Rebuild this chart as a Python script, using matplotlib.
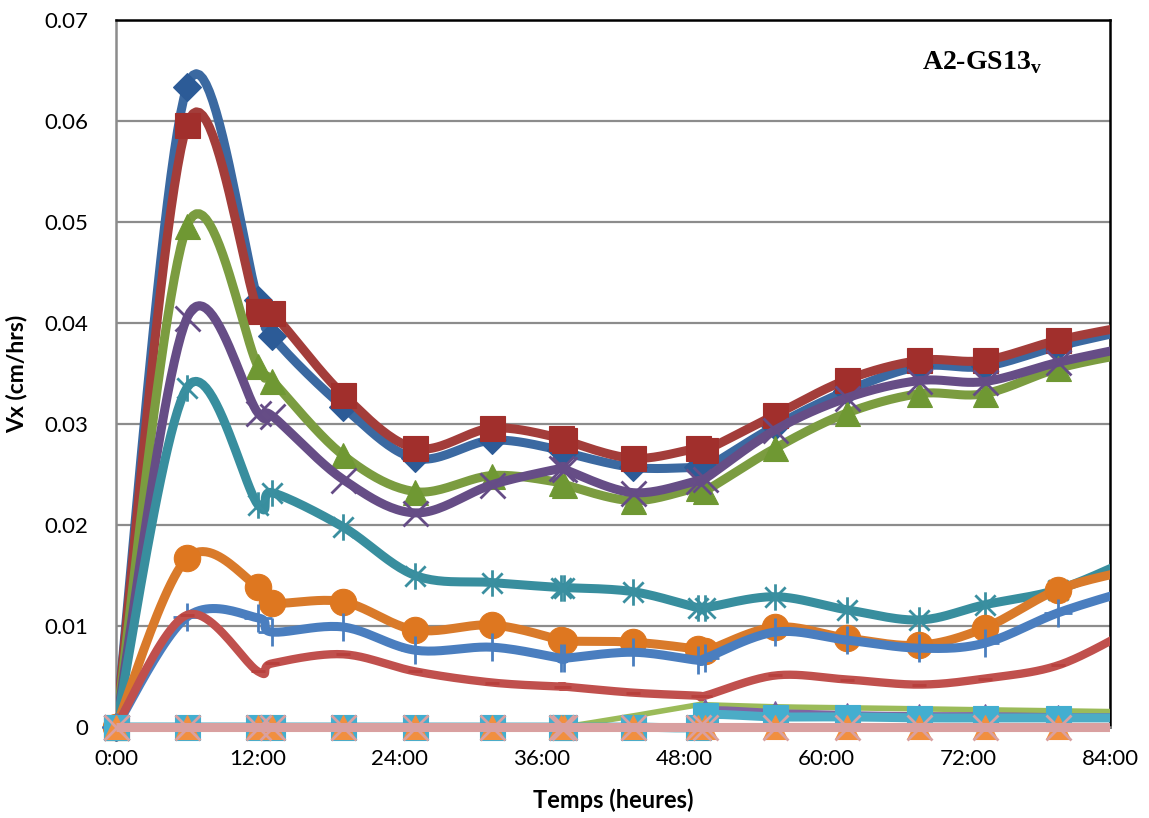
import numpy as np
import matplotlib.pyplot as plt
from matplotlib.path import Path
from matplotlib.patches import Rectangle

plt.rcParams['font.family'] = ['Lato', 'DejaVu Sans']
plt.rcParams['mathtext.fontset'] = 'custom'
plt.rcParams['mathtext.rm'] = 'Liberation Serif:bold'

# sampling times (hours)
hours = [0, 6, 12, 13.2, 19.2, 25.3, 31.8, 37.6, 37.9, 43.7, 49.2, 49.8,
         55.7, 61.8, 67.9, 73.4, 79.6, 85.6]

# Vx (cm/hrs)
vx_diamond = [0, 0.0634, 0.0423, 0.0387, 0.0317, 0.0266, 0.0284, 0.0274, 0.0272, 0.0257,
              0.0257, 0.0256, 0.0298, 0.0333, 0.0357, 0.0357, 0.0377, 0.0393]
vx_square = [0, 0.0596, 0.0412, 0.0410, 0.0329, 0.0276, 0.0296, 0.0286, 0.0284, 0.0266,
             0.0276, 0.0274, 0.0309, 0.0344, 0.0363, 0.0363, 0.0383, 0.0397]
vx_triangle = [0, 0.0496, 0.0357, 0.0343, 0.0269, 0.0233, 0.0249, 0.0242, 0.0240, 0.0224,
               0.0237, 0.0234, 0.0276, 0.0311, 0.0330, 0.0330, 0.0355, 0.0370]
vx_cross = [0, 0.0405, 0.0311, 0.0308, 0.0245, 0.0212, 0.0240, 0.0256, 0.0255, 0.0232,
            0.0244, 0.0246, 0.0294, 0.0326, 0.0343, 0.0342, 0.0361, 0.0376]
vx_star = [0, 0.0336, 0.0220, 0.0232, 0.0198, 0.0150, 0.0143, 0.0138, 0.0138, 0.0134,
           0.0118, 0.0118, 0.0129, 0.0116, 0.0106, 0.0121, 0.0136, 0.0165]
vx_circle = [0, 0.0167, 0.0139, 0.0123, 0.0124, 0.0096, 0.0101, 0.0086, 0.0085, 0.0084,
             0.0077, 0.0075, 0.0099, 0.0088, 0.0081, 0.0098, 0.0136, 0.0155]
vx_plus = [0, 0.0109, 0.0108, 0.0094, 0.0099, 0.0076, 0.0079, 0.0068, 0.0068, 0.0074,
           0.0066, 0.0068, 0.0094, 0.0086, 0.0078, 0.0083, 0.0113, 0.0135]
vx_dash = [0, 0.0111, 0.0055, 0.0063, 0.0072, 0.0055, 0.0044, 0.0040, 0.0040, 0.0034,
           0.0031, 0.0031, 0.0051, 0.0047, 0.0042, 0.0048, 0.0061, 0.0095]
vx_green = [0, 0, 0, 0, 0, 0, 0, 0, 0, 0.0011,
            0.0022, 0.0022, 0.0020, 0.0019, 0.0018, 0.0017, 0.0016, 0.0015]
vx_violet = [0, 0, 0, 0, 0, 0, 0, 0, 0, 0,
             0, 0.0017, 0.0015, 0.0013, 0.0012, 0.0012, 0.0011, 0.0011]
vx_cyan = [0, 0, 0, 0, 0, 0, 0, 0, 0, 0,
           0, 0.0012, 0.0010, 0.0010, 0.0009, 0.0009, 0.0009, 0.0009]
vx_zero1 = [0] * len(hours)
vx_zero2 = [0] * len(hours)

xticks = [0, 12, 24, 36, 48, 60, 72, 84]
xtick_labels = ['0:00', '12:00', '24:00', '36:00', '48:00', '60:00', '72:00', '84:00']
yticks = [0, 0.01, 0.02, 0.03, 0.04, 0.05, 0.06, 0.07]
ytick_labels = ['0', '0.01', '0.02', '0.03', '0.04', '0.05', '0.06', '0.07']

# asterisk marker: X plus vertical bar
star_path = Path([(-1, -1), (1, 1), (-1, 1), (1, -1), (0, -1.3), (0, 1.3)],
                 [Path.MOVETO, Path.LINETO, Path.MOVETO, Path.LINETO, Path.MOVETO, Path.LINETO])


def excel_smooth(x, y, n=25):
    # bezier smoothing like the spreadsheet "smoothed line" option
    x = np.asarray(x, float)
    y = np.asarray(y, float)
    s = np.linspace(0, 1, n)[1:]
    px, py = [x[0]], [y[0]]
    last = len(x) - 1
    for i in range(last):
        i0 = max(i - 1, 0)
        i3 = min(i + 2, last)
        c1x = x[i] + (x[i + 1] - x[i0]) / 6
        c1y = y[i] + (y[i + 1] - y[i0]) / 6
        c2x = x[i + 1] - (x[i3] - x[i]) / 6
        c2y = y[i + 1] - (y[i3] - y[i]) / 6
        a, b, c, d = (1 - s) ** 3, 3 * (1 - s) ** 2 * s, 3 * (1 - s) * s ** 2, s ** 3
        px.extend(a * x[i] + b * c1x + c * c2x + d * x[i + 1])
        py.extend(a * y[i] + b * c1y + c * c2y + d * y[i + 1])
    return px, py


series = [
    # values, line colour, marker, marker colour, marker size, line width
    (vx_diamond, '#3b69a1', 'D', '#2c5b97', 14, 6.5),
    (vx_square, '#a33d3a', 's', '#a12f2c', 18, 6.5),
    (vx_triangle, '#7b9c40', '^', '#6f9833', 18, 6.5),
    (vx_cross, '#664d86', 'x', '#654c86', 18, 6.5),
    (vx_star, '#388e9e', star_path, '#3a8fa0', 19, 6.5),
    (vx_circle, '#d97a2a', 'o', '#de7720', 19, 6.5),
    (vx_plus, '#4a7ebf', '+', '#4a7ebf', 20, 6.5),
    (vx_dash, '#c0504d', '_', '#b8403d', 10, 6.0),
    (vx_green, '#9bbb59', None, '#9bbb59', 0, 4.0),
    (vx_violet, '#8064a2', '^', '#7a5ea0', 16, 4.0),
    (vx_cyan, '#4bacc6', 's', '#43aed0', 18, 6.5),
    (vx_zero1, '#f79646', '^', '#f18f3f', 17, 6.5),
    (vx_zero2, '#d9a0a0', 'x', '#d9a0a0', 18, 6.5),
]

fig = plt.figure(figsize=(11.49, 8.18), dpi=100)
ax = fig.add_axes([116 / 1149, 91 / 818, 994 / 1149, 707 / 818])

ax.set_xlim(0, 84)
ax.set_ylim(0, 0.07)

clip_rect = Rectangle((0, -0.05), 1, 1.1, transform=ax.transAxes)

for k, (vals, lc, mk, mc, ms, lw) in enumerate(series):
    sx, sy = excel_smooth(hours, vals)
    ln, = ax.plot(sx, sy, color=lc, lw=lw, solid_capstyle='butt',
                  solid_joinstyle='round', zorder=3 + 2 * k)
    ln.set_clip_path(clip_rect)
    if mk is None:
        continue
    mx = [h for h in hours if h <= 84]
    my = vals[:len(mx)]
    thin = mk in ('x', '+', '_') or mk is star_path
    ax.plot(mx, my, linestyle='none', marker=mk, markersize=ms,
            markerfacecolor=mc, markeredgecolor=mc,
            markeredgewidth=2 if thin else 0.8, clip_on=False, zorder=4 + 2 * k)

ax.set_xticks(xticks)
ax.set_xticklabels(xtick_labels)
ax.set_yticks(yticks)
ax.set_yticklabels(ytick_labels)
ax.tick_params(axis='both', length=0, labelsize=16, colors='black')
ax.tick_params(axis='y', pad=20)
ax.tick_params(axis='x', pad=16)

ax.grid(axis='y', color='#8c8c8c', lw=1.6, zorder=1)
ax.set_axisbelow(True)
for side in ('left', 'bottom'):
    ax.spines[side].set_color('#8c8c8c')
    ax.spines[side].set_linewidth(1.8)
for side in ('top', 'right'):
    ax.spines[side].set_color('black')
    ax.spines[side].set_linewidth(1.8)

ax.set_xlabel('Temps (heures)', fontsize=17, fontweight='bold', labelpad=14)
ax.set_ylabel('Vx (cm/hrs)', fontsize=16.5, fontweight='bold', labelpad=12)

fig.text(922 / 1149, 1 - 69 / 818, r'A2-GS13$_{\mathrm{v}}$', fontsize=20,
         family='Liberation Serif', fontweight='bold', ha='left', va='baseline')

fig.savefig('out.png', dpi=100)
